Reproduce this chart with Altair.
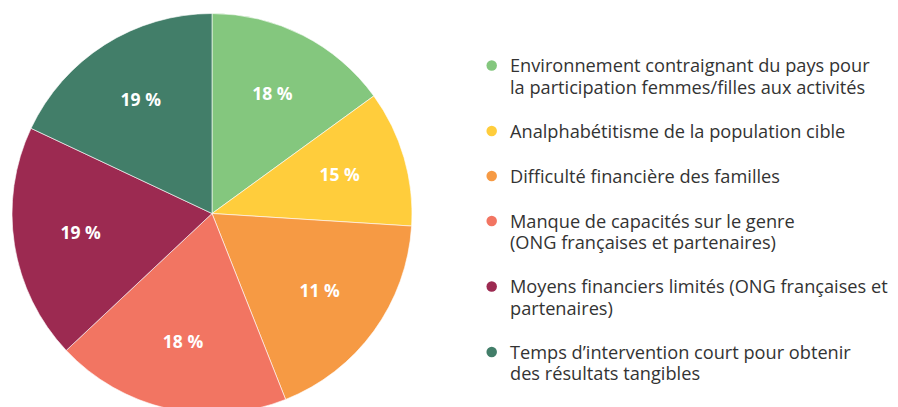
import altair as alt
import pandas as pd

categories = [
    "Environnement contraignant du pays pour\nla participation femmes/filles aux activités",
    "Analphabétitisme de la population cible",
    "Difficulté financière des familles",
    "Manque de capacités sur le genre\n(ONG françaises et partenaires)",
    "Moyens financiers limités (ONG françaises et\npartenaires)",
    "Temps d’intervention court pour obtenir\ndes résultats tangibles",
]
values = [15, 11, 18, 19, 19, 18]
pct_labels = ["18 %", "15 %", "11 %", "18 %", "19 %", "19 %"]
colors = ["#84C77E", "#FFCD3C", "#F69A44", "#F27562", "#9C2A51", "#427E69"]

# legend layout derived from the number of lines per label
LINE_H = 20.5
GAP = 45
ypos = []
y = 57.5
for i, c in enumerate(categories):
    ypos.append(y)
    y += GAP + LINE_H * (c.count("\n"))

df = pd.DataFrame({
    "idx": list(range(len(categories))),
    "cat": categories,
    "value": values,
    "pct": pct_labels,
    "ypos": ypos,
})

color = alt.Color("cat:N", scale=alt.Scale(domain=categories, range=colors), legend=None)

CX, CY, R = 204, 205.5, 200

base = alt.Chart(df)

pie = base.mark_arc(outerRadius=R, stroke="#ffffff", strokeWidth=0.6).encode(
    theta=alt.Theta("value:Q", stack=True),
    color=color,
    order=alt.Order("idx:Q"),
    x=alt.value(CX),
    y=alt.value(CY),
)

pct = base.mark_text(
    radius=133, font="Open Sans", fontWeight="bold", fontSize=17.5,
    color="white", align="center", baseline="middle",
).encode(
    theta=alt.Theta("value:Q", stack=True),
    text="pct:N",
    order=alt.Order("idx:Q"),
    x=alt.value(CX),
    y=alt.value(CY),
)

dots = base.mark_circle(size=110, opacity=1).encode(
    x=alt.value(483.7),
    y=alt.Y("ypos:Q", scale=None, axis=None),
    color=color,
)

texts = base.mark_text(
    align="left", baseline="alphabetic", dy=6.5, lineBreak="\n",
    lineHeight=21.5, font="Open Sans", fontSize=18.2, color="#333333",
).encode(
    x=alt.value(502),
    y=alt.Y("ypos:Q", scale=None, axis=None),
    text="cat:N",
)

chart = alt.layer(pie, pct, dots, texts).properties(
    width=882, height=399,
    autosize=alt.AutoSizeParams(type="none"),
    padding=0,
).configure_view(stroke=None)

chart.save("out.html", embed_options={"renderer": "svg", "actions": False})
